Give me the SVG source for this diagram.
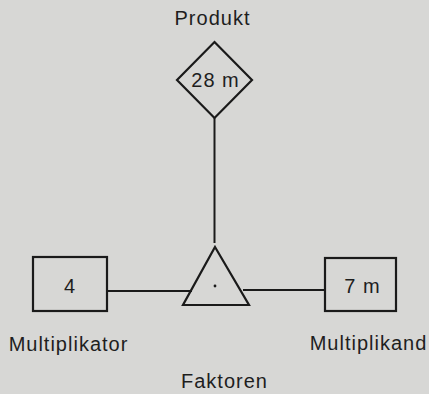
<svg xmlns="http://www.w3.org/2000/svg" width="429" height="394" viewBox="0 0 429 394">
<style>
.shape{fill:none;stroke:#1a1a1a;stroke-width:2.2;stroke-linejoin:miter}
.conn{stroke:#1a1a1a;stroke-width:2;fill:none}
text{font-family:"Liberation Sans",Arial,sans-serif;font-size:20px;fill:#1e1e1e;letter-spacing:1px;text-anchor:middle}
</style>
<rect width="429" height="394" fill="#d7d7d5"/>
<g id="connectors">
<line class="conn" x1="214.5" y1="118" x2="214.5" y2="243"/>
<line class="conn" x1="107" y1="291" x2="192" y2="291"/>
<line class="conn" x1="243" y1="290" x2="325" y2="290"/>
</g>
<g id="produkt">
<polygon class="shape" points="214.5,42 252,80 214.5,118 177,80"/>
<text x="215.5" y="87">28 m</text>
<text x="212.5" y="25">Produkt</text>
</g>
<g id="faktoren">
<polygon class="shape" points="215,247 249,305 183,305"/>
<circle cx="215" cy="286" r="1.4" fill="#1a1a1a"/>
<text x="224.5" y="388">Faktoren</text>
</g>
<g id="multiplikator">
<rect class="shape" x="33" y="257" width="74" height="54"/>
<text x="70" y="293">4</text>
<text x="68.5" y="351">Multiplikator</text>
</g>
<g id="multiplikand">
<rect class="shape" x="325" y="258" width="71" height="53"/>
<text x="362.5" y="293">7 m</text>
<text x="368.5" y="350">Multiplikand</text>
</g>
</svg>
